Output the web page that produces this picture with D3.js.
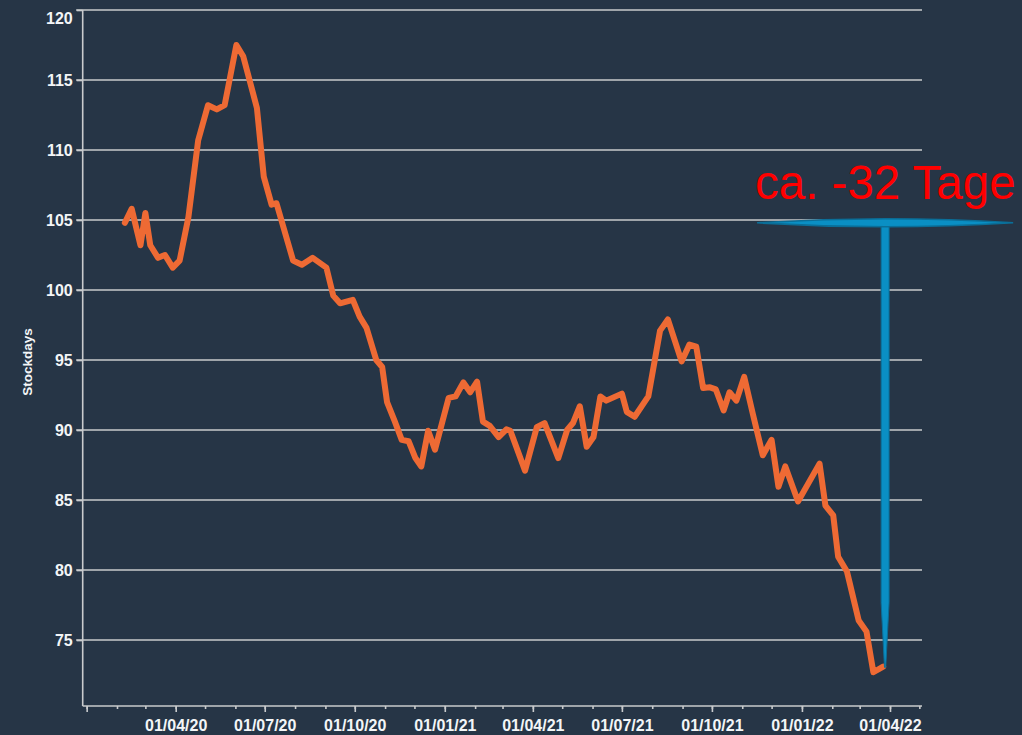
<!DOCTYPE html>
<html>
<head>
<meta charset="utf-8">
<script src="https://cdn.jsdelivr.net/npm/d3@7"></script>
<style>
  html, body { margin: 0; padding: 0; background: #263546; }
  svg { display: block; }
</style>
</head>
<body>
<script>
// ---- data ----
const dates = [
  "2020-02-09","2020-02-16","2020-02-25","2020-03-01","2020-03-06","2020-03-14","2020-03-21","2020-03-29",
  "2020-04-05","2020-04-14","2020-04-24","2020-04-28","2020-05-04","2020-05-13","2020-05-21","2020-06-02",
  "2020-06-09","2020-06-23","2020-06-30","2020-07-08","2020-07-13","2020-07-30","2020-08-08","2020-08-19",
  "2020-09-02","2020-09-09","2020-09-16","2020-09-29","2020-10-06","2020-10-13","2020-10-23","2020-10-29",
  "2020-11-03","2020-11-11","2020-11-18","2020-11-25","2020-12-02","2020-12-08","2020-12-15","2020-12-22",
  "2021-01-05","2021-01-12","2021-01-20","2021-01-27","2021-02-03","2021-02-09","2021-02-16","2021-02-25",
  "2021-03-05","2021-03-09","2021-03-24","2021-04-05","2021-04-13","2021-04-27","2021-05-06","2021-05-12",
  "2021-05-19","2021-05-26","2021-06-02","2021-06-09","2021-06-15","2021-07-01","2021-07-06","2021-07-14",
  "2021-07-28","2021-08-09","2021-08-17","2021-08-31","2021-09-08","2021-09-15","2021-09-22","2021-09-29",
  "2021-10-05","2021-10-13","2021-10-19","2021-10-26","2021-11-03","2021-11-12","2021-11-22","2021-12-01",
  "2021-12-08","2021-12-15","2021-12-28","2022-01-19","2022-01-25","2022-02-02","2022-02-07","2022-02-16",
  "2022-02-28","2022-03-08","2022-03-15","2022-03-25"
];
const stockdays = [
  104.8,105.8,103.2,105.5,103.2,102.3,102.5,101.6,
  102.1,105.2,110.7,111.7,113.2,112.9,113.2,117.5,
  116.7,113.0,108.1,106.1,106.2,102.1,101.8,102.3,
  101.6,99.6,99.05,99.3,98.1,97.3,95.0,94.5,
  92.0,90.6,89.3,89.2,88.0,87.4,89.95,88.6,
  92.3,92.4,93.4,92.7,93.45,90.6,90.3,89.5,
  90.05,89.95,87.1,90.2,90.5,88.0,90.0,90.5,
  91.7,88.8,89.5,92.4,92.1,92.6,91.3,90.95,
  92.4,97.1,97.9,94.9,96.1,95.95,93.0,93.05,
  92.9,91.4,92.7,92.1,93.8,91.1,88.2,89.3,
  85.95,87.4,84.9,87.6,84.6,83.9,80.95,79.9,
  76.4,75.6,72.7,73.1
];
const yTicks = [75, 80, 85, 90, 95, 100, 105, 110, 115, 120];
const yDomain = [70.29, 120];
const xMonthTicks = d3.utcMonths(new Date(Date.UTC(2020,0,1)), new Date(Date.UTC(2022,4,2)));
const xMajorTicks = xMonthTicks.filter(d => d.getUTCMonth() % 3 === 0);
const xLabelledTicks = ["01/04/20","01/07/20","01/10/20","01/01/21","01/04/21","01/07/21","01/10/21","01/01/22","01/04/22"];
const yAxisTitle = "Stockdays";
const annotationText = "ca. -32 Tage";
const annotationDate = "2022-03-27";
const annotationFrom = 104.8;
const annotationTo = 73.05;

(function () {
  // ---- layout ----
  const W = 1022, H = 735;
  const pLeft = 82.7, pRight = 922, pTop = 10, pBottom = 706;
  const gridColor = "#c9cbcd";
  const textColor = "#f3f5f7";
  const lineColor = "#ee6a34";
  const font = "'Liberation Sans', Arial, sans-serif";

  const parse = d3.utcParse("%Y-%m-%d");
  const fmt = d3.utcFormat("%d/%m/%y");
  const data = dates.map((d, i) => ({ date: parse(d), v: stockdays[i] }));

  const x0 = d3.scaleUtc()
    .domain([parse("2020-04-01"), parse("2022-04-01")])
    .range([175.7, 890]);
  const x = d3.scaleUtc()
    .domain([x0.invert(pLeft), x0.invert(pRight)])
    .range([pLeft, pRight]);
  const y = d3.scaleLinear().domain(yDomain).range([pBottom, pTop]);

  const svg = d3.select("body").append("svg")
    .attr("width", W).attr("height", H)
    .style("background", "#263546")
    .style("font-family", font);

  // gridlines
  svg.append("g").selectAll("line").data(yTicks).join("line")
    .attr("x1", pLeft - 6.5).attr("x2", pRight)
    .attr("y1", d => y(d)).attr("y2", d => y(d))
    .attr("stroke", gridColor).attr("stroke-width", 1.6);

  // y axis
  const yAxis = svg.append("g").attr("transform", `translate(${pLeft},0)`)
    .call(d3.axisLeft(y).tickValues(yTicks).tickSize(6).tickPadding(4).tickFormat(d3.format("d")));
  yAxis.select(".domain").attr("stroke", gridColor).attr("stroke-width", 1.6)
    .attr("d", `M0,${pTop}V${pBottom}`);
  yAxis.selectAll(".tick line").attr("stroke", gridColor).attr("stroke-width", 1.6);
  yAxis.selectAll(".tick text")
    .attr("fill", textColor).attr("font-size", 16).attr("font-weight", "bold")
    .attr("font-family", font)
    .attr("dy", (d) => y(d) < 18 ? "0.85em" : "0.34em");

  // x axis: minor monthly ticks
  const xMinor = svg.append("g").attr("transform", `translate(0,${pBottom})`)
    .call(d3.axisBottom(x).tickValues(xMonthTicks).tickSize(3).tickFormat(""));
  xMinor.select(".domain").attr("stroke", gridColor).attr("stroke-width", 1.6)
    .attr("d", `M${pLeft},0H${pRight}`);
  xMinor.selectAll(".tick line").attr("stroke", gridColor).attr("stroke-width", 1.6);

  // x axis: quarterly ticks, labelled where shown in the source
  const xMajor = svg.append("g").attr("transform", `translate(0,${pBottom})`)
    .call(d3.axisBottom(x).tickValues(xMajorTicks).tickSize(6).tickPadding(8)
      .tickFormat(d => xLabelledTicks.includes(fmt(d)) ? fmt(d) : ""));
  xMajor.select(".domain").remove();
  xMajor.selectAll(".tick line").attr("stroke", gridColor).attr("stroke-width", 1.6);
  xMajor.selectAll(".tick text")
    .attr("fill", textColor).attr("font-size", 16).attr("font-weight", "bold")
    .attr("font-family", font);

  // y axis title
  svg.append("text")
    .attr("transform", `translate(31.5,${362}) rotate(-90)`)
    .attr("text-anchor", "middle")
    .attr("fill", textColor).attr("font-size", 13.5).attr("font-weight", "bold")
    .text(yAxisTitle);

  // series line
  svg.append("path").datum(data)
    .attr("fill", "none").attr("stroke", lineColor).attr("stroke-width", 6)
    .attr("stroke-linejoin", "round").attr("stroke-linecap", "round")
    .attr("d", d3.line().x(d => x(d.date)).y(d => y(d.v)));

  // annotation (T marker)
  const ax = x(parse(annotationDate));
  const ayTop = y(annotationFrom), ayBot = y(annotationTo);
  const blue = "#0a8fc4", blueEdge = "#0a6e98";
  svg.append("path")
    .attr("d", `M${ax - 4},${ayTop} L${ax + 4},${ayTop} L${ax + 4},${ayBot - 65} L${ax + 0.6},${ayBot} L${ax - 0.6},${ayBot} L${ax - 4},${ayBot - 65} Z`)
    .attr("fill", blue).attr("stroke", blueEdge).attr("stroke-width", 1);
  const cx0 = ax - 128, cx1 = ax + 128;
  svg.append("path")
    .attr("d", `M${cx0},${ayTop} Q${ax},${ayTop - 8} ${cx1},${ayTop} Q${ax},${ayTop + 8} ${cx0},${ayTop} Z`)
    .attr("fill", blue).attr("stroke", blueEdge).attr("stroke-width", 1.6);

  svg.append("text")
    .attr("x", 755).attr("y", ayTop - 24)
    .attr("fill", "#ff0000").attr("font-size", 47.5)
    .attr("font-family", font)
    .text(annotationText);
})();
</script>
</body>
</html>
